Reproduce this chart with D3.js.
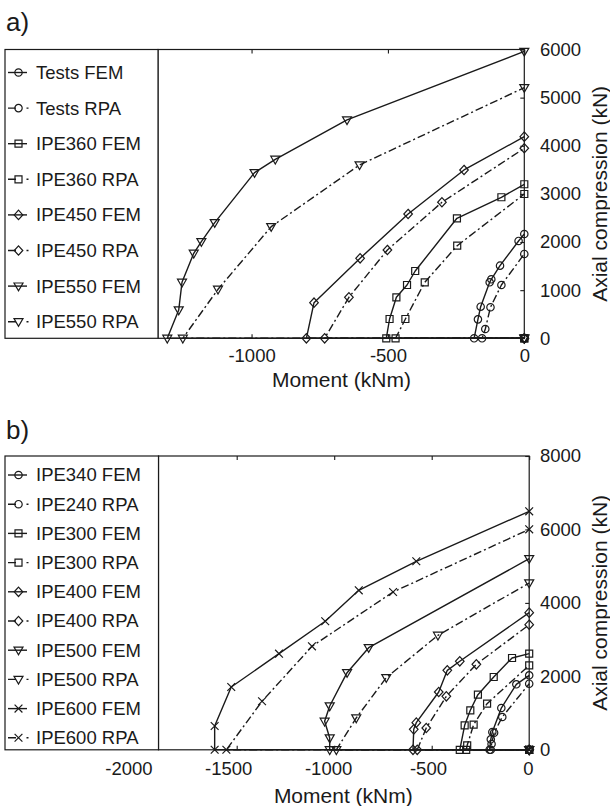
<!DOCTYPE html>
<html>
<head>
<meta charset="utf-8">
<script src="https://cdn.jsdelivr.net/npm/d3@7"></script>
<style>
  html, body { margin: 0; padding: 0; background: #fff; }
  svg { display: block; font-family: "Liberation Sans", Arial, Helvetica, sans-serif; }
</style>
</head>
<body>
<svg id="fig" width="610" height="806"></svg>
<script>
// ---- Panel a: interaction curves, [moment kNm, axial compression kN] ----
const labelsA  = ["Tests FEM", "Tests RPA", "IPE360 FEM", "IPE360 RPA",
                  "IPE450 FEM", "IPE450 RPA", "IPE550 FEM", "IPE550 RPA"];
const markersA = ["circle", "circle", "square", "square",
                  "diamond", "diamond", "triangle", "triangle"];
const testsFEM  = [[0,0],[-184,0],[-170,394],[-160,657],[-127,1163],[-121,1226],[-89,1509],[-21,2022],[0,2167]];
const testsRPA  = [[0,0],[-155,0],[-143,193],[-124,644],[-84,1107],[0,1752]];
const ipe360FEM = [[0,0],[-506,0],[-494,401],[-469,852],[-430,1107],[-400,1398],[-247,2493],[-84,2930],[0,3200]];
const ipe360RPA = [[0,0],[-472,0],[-436,401],[-365,1163],[-246,1924],[0,2998]];
const ipe450FEM = [[0,0],[-799,0],[-771,740],[-602,1662],[-426,2583],[-221,3497],[0,4189]];
const ipe450RPA = [[0,0],[-732,0],[-643,852],[-502,1835],[-302,2826],[0,3948]];
const ipe550FEM = [[0,0],[-1309,0],[-1267,588],[-1255,1163],[-1212,1766],[-1184,2007],[-1135,2402],[-989,3441],[-913,3719],[-650,4536],[0,5960]];
const ipe550RPA = [[0,0],[-1252,0],[-1123,1018],[-928,2319],[-604,3601],[0,5207]];
const curvesA = [testsFEM, testsRPA, ipe360FEM, ipe360RPA, ipe450FEM, ipe450RPA, ipe550FEM, ipe550RPA];
const xTicksA = [-1000, -500, 0];
const yTicksA = [0, 1000, 2000, 3000, 4000, 5000, 6000];

// ---- Panel b ----
const labelsB  = ["IPE340 FEM", "IPE240 RPA", "IPE300 FEM", "IPE300 RPA", "IPE400 FEM",
                  "IPE400 RPA", "IPE500 FEM", "IPE500 RPA", "IPE600 FEM", "IPE600 RPA"];
const markersB = ["circle", "circle", "square", "square", "diamond",
                  "diamond", "triangle", "triangle", "cross", "cross"];
const ipe340FEM = [[0,0],[-203,0],[-197,285],[-189,485],[-143,1138],[-66,1783],[0,2028]];
const ipe240RPA = [[0,0],[-197,0],[-193,158],[-180,466],[-138,893],[0,1800]];
const ipe300FEM = [[0,0],[-356,0],[-331,667],[-302,1076],[-263,1501],[-182,1982],[-88,2500],[0,2617]];
const ipe300RPA = [[0,0],[-323,0],[-318,122],[-285,684],[-216,1256],[0,2300]];
const ipe400FEM = [[0,0],[-596,0],[-592,557],[-579,739],[-464,1574],[-420,2164],[-356,2410],[0,3734]];
const ipe400RPA = [[0,0],[-574,0],[-528,594],[-425,1457],[-271,2328],[0,3406]];
const ipe500FEM = [[0,0],[-1023,0],[-1023,321],[-1049,776],[-1023,1193],[-934,2100],[-823,2780],[0,5204]];
const ipe500RPA = [[0,0],[-989,0],[-887,866],[-733,1964],[-468,3118],[0,4542]];
const ipe600FEM = [[0,0],[-1613,0],[-1613,648],[-1528,1710],[-1283,2617],[-1046,3499],[-874,4343],[-579,5133],[0,6494]];
const ipe600RPA = [[0,0],[-1553,0],[-1370,1321],[-1114,2818],[-698,4297],[0,6004]];
const curvesB = [ipe340FEM, ipe240RPA, ipe300FEM, ipe300RPA, ipe400FEM,
                 ipe400RPA, ipe500FEM, ipe500RPA, ipe600FEM, ipe600RPA];
const xTicksB = [-2000, -1500, -1000, -500, 0];
const yTicksB = [0, 2000, 4000, 6000, 8000];

const INK = "#1a1a1a";
const DASH_DOT = "8,3,2,3";
const FONT = 18.5;

const svg = d3.select("#fig");

// Open marker outlines centred on (0,0)
function markerPath(kind) {
  switch (kind) {
    case "circle": {
      const p = d3.path(); p.arc(0, 0, 3.7, 0, 2 * Math.PI); p.closePath(); return p.toString();
    }
    case "square":   return "M-3.5,-3.5h7v7h-7Z";
    case "diamond":  return "M0,-4.7L4.3,0L0,4.7L-4.3,0Z";
    case "triangle": return "M-4.5,-3.1L4.5,-3.1L0,4.7Z";
    case "cross":    return "M-3.9,-3.9L3.9,3.9M-3.9,3.9L3.9,-3.9";
  }
}

function drawPanel(p) {
  const g = svg.append("g");
  const x = d3.scaleLinear().domain(p.xDomain).range([p.left, p.right]);
  const y = d3.scaleLinear().domain(p.yDomain).range([p.bottom, p.top]);
  const fmt = d => String(d);

  // plot frame
  g.append("rect")
    .attr("x", p.left).attr("y", p.top)
    .attr("width", p.right - p.left).attr("height", p.bottom - p.top)
    .attr("fill", "none").attr("stroke", INK).attr("stroke-width", 1.2);

  // bottom axis, inward ticks
  const xb = g.append("g")
    .attr("transform", `translate(0,${p.bottom})`)
    .call(d3.axisBottom(x).tickValues(p.xTicks).tickSizeInner(-4).tickSizeOuter(0)
            .tickPadding(p.xPad).tickFormat(fmt));
  // top axis ticks only
  const xt = g.append("g")
    .attr("transform", `translate(0,${p.top})`)
    .call(d3.axisTop(x).tickValues(p.xTicks.filter(v => v > p.xDomain[0])).tickSizeInner(-4)
            .tickSizeOuter(0).tickFormat(""));
  // right axis, inward ticks
  const yr = g.append("g")
    .attr("transform", `translate(${p.right},0)`)
    .call(d3.axisRight(y).tickValues(p.yTicks).tickSizeInner(-4).tickSizeOuter(0)
            .tickPadding(p.yPad).tickFormat(fmt));

  [xb, xt, yr].forEach(a => {
    a.select(".domain").remove();
    a.attr("font-family", null).attr("font-size", FONT);
    a.selectAll("line").attr("stroke", INK).attr("stroke-width", 1.1);
    a.selectAll("text").attr("fill", INK);
  });
  if (p.labelX) xb.selectAll("text").attr("x", d => p.labelX(d) - x(d));

  // axis titles
  g.append("text")
    .attr("x", p.xTitleX).attr("y", p.xTitleY)
    .attr("text-anchor", "middle").attr("font-size", 21).attr("fill", INK)
    .text("Moment (kNm)");
  g.append("text")
    .attr("transform", `translate(606.5,${(p.top + p.bottom) / 2}) rotate(-90)`)
    .attr("text-anchor", "middle").attr("font-size", 21).attr("fill", INK)
    .text("Axial compression (kN)");

  // panel tag
  g.append("text")
    .attr("x", 6).attr("y", p.tagY)
    .attr("font-size", 26).attr("fill", INK)
    .text(p.tag);

  // curves
  const line = d3.line().x(d => x(d[0])).y(d => y(d[1]));
  p.curves.forEach((pts, i) => {
    const rpa = i % 2 === 1;
    g.append("path")
      .attr("d", line(pts))
      .attr("fill", "none").attr("stroke", INK).attr("stroke-width", 1.4)
      .attr("stroke-linejoin", "round")
      .attr("stroke-dasharray", rpa ? DASH_DOT : null);
    g.append("g").selectAll("path")
      .data(pts).join("path")
      .attr("transform", d => `translate(${x(d[0])},${y(d[1])})`)
      .attr("d", markerPath(p.markers[i]))
      .attr("fill", "none").attr("stroke", INK).attr("stroke-width", 1.2);
  });

  // legend box (left of the axes, full height)
  const leg = g.append("g");
  leg.append("rect")
    .attr("x", p.legLeft).attr("y", p.top)
    .attr("width", p.left - p.legLeft).attr("height", p.bottom - p.top)
    .attr("fill", "#fff").attr("stroke", INK).attr("stroke-width", 1.2);
  p.labels.forEach((name, i) => {
    const cy = p.top + p.legFirst + i * p.legStep;
    const rpa = i % 2 === 1;
    leg.append("line")
      .attr("x1", 8).attr("x2", rpa ? 29 : 27).attr("y1", cy).attr("y2", cy)
      .attr("stroke", INK).attr("stroke-width", 1.4)
      .attr("stroke-dasharray", rpa ? "8,10.5,2,20" : null);
    leg.append("path")
      .attr("transform", `translate(18.5,${cy})`)
      .attr("d", markerPath(p.markers[i]))
      .attr("fill", "none").attr("stroke", INK).attr("stroke-width", 1.2);
    leg.append("text")
      .attr("x", 36).attr("y", cy).attr("dy", "0.35em")
      .attr("font-size", FONT).attr("fill", INK)
      .text(name);
  });
}

drawPanel({
  tag: "a)", tagY: 31,
  labels: labelsA, markers: markersA, curves: curvesA,
  xDomain: [-1343, 0], yDomain: [0, 6000],
  xTicks: xTicksA, yTicks: yTicksA,
  left: 158, right: 524.3, top: 49.5, bottom: 338.3,
  legLeft: 5, legFirst: 23, legStep: 35.6,
  xPad: 10.3, yPad: 15.7,
  xTitleX: 341.5, xTitleY: 386.7
});

drawPanel({
  tag: "b)", tagY: 439,
  labels: labelsB, markers: markersB, curves: curvesB,
  xDomain: [-1901, 0], yDomain: [0, 8000],
  xTicks: xTicksB, yTicks: yTicksB,
  left: 158.5, right: 529.2, top: 456, bottom: 749.8,
  legLeft: 5, legFirst: 19, legStep: 29.2,
  xPad: 12, yPad: 10.8,
  labelX: d3.scaleLinear().domain([-2000, 0]).range([128.4, 527.8]),
  xTitleX: 343.3, xTitleY: 803
});
</script>
</body>
</html>
